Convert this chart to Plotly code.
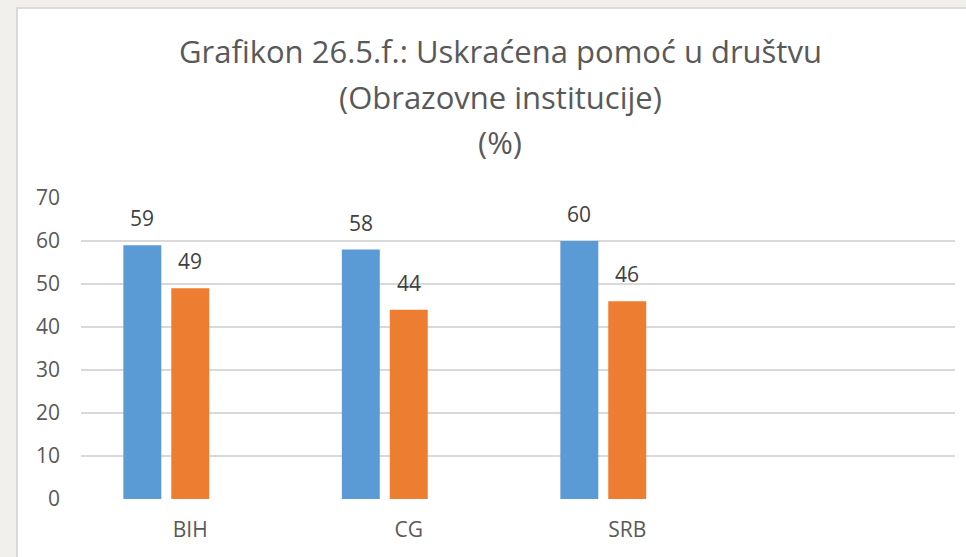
import plotly.graph_objects as go

# Data
categories = ["BIH", "CG", "SRB"]
series_a = [59, 58, 60]
series_b = [49, 44, 46]
series_c = [None, None, None]  # third series without values

title_lines = [
    "Grafikon 26.5.f.: Uskraćena pomoć u društvu",
    "(Obrazovne institucije)",
    "(%)",
]

BLUE = "#5b9bd5"
ORANGE = "#ed7d31"
TEXT = "#595959"
LABEL = "#404040"
GRID = "#d9d9d9"
FONT = "Open Sans"

W, H = 966, 557
ML, MR, MT, MB = 81, 11, 198, 58
PW = W - ML - MR
PH = H - MT - MB

BARGAP = 0.342
BARGROUPGAP = 0.208
N_SLOTS = 3
N_CATS = 4  # axis spans four category widths

fig = go.Figure()
for vals, col in [(series_a, BLUE), (series_b, ORANGE), (series_c, "#a5a5a5")]:
    fig.add_trace(go.Bar(x=categories, y=vals, marker=dict(color=col, line=dict(width=0)),
                         showlegend=False, hoverinfo="skip"))

# value labels above bars
cat_px = PW / N_CATS
slot_px = cat_px * (1 - BARGAP) / N_SLOTS
for si, vals in enumerate([series_a, series_b]):
    shift = (si - (N_SLOTS - 1) / 2) * slot_px
    for c, v in zip(categories, vals):
        fig.add_annotation(x=c, y=v, xref="x", yref="y", text=str(v), showarrow=False,
                           xshift=shift, yshift=27, yanchor="middle",
                           font=dict(family=FONT, size=21, color=LABEL))

# title, one annotation per line
def py(pix):
    return (H - MB - pix) / PH

def px(pix):
    return (pix - ML) / PW

for line, ypix in zip(title_lines, [51, 97, 142]):
    fig.add_annotation(x=px(500), y=py(ypix), xref="paper", yref="paper", text=line,
                       showarrow=False, xanchor="center", yanchor="middle",
                       font=dict(family=FONT, size=31, color=TEXT))

# white chart card with a thin border on the grey page
fig.add_shape(type="rect", xref="paper", yref="paper", layer="below",
              x0=px(17), x1=px(975), y0=py(570), y1=py(8),
              fillcolor="white", line=dict(color="#dadada", width=2))

fig.update_layout(
    width=W, height=H,
    margin=dict(l=ML, r=MR, t=MT, b=MB),
    paper_bgcolor="#f1f0ed",
    plot_bgcolor="rgba(0,0,0,0)",
    barmode="group",
    bargap=BARGAP,
    bargroupgap=BARGROUPGAP,
    font=dict(family=FONT, color=TEXT),
    xaxis=dict(type="category", range=[-0.5, N_CATS - 0.5], showgrid=False,
               showline=False, zeroline=False, ticks="", ticklabelstandoff=16,
               tickfont=dict(family=FONT, size=21, color=TEXT)),
    yaxis=dict(range=[0, 70], dtick=10, showgrid=True, gridcolor=GRID, gridwidth=1.5,
               zeroline=False, showline=False, ticks="", ticklabelstandoff=20,
               tickfont=dict(family=FONT, size=21, color=TEXT)),
)

fig.write_html("out.html")
